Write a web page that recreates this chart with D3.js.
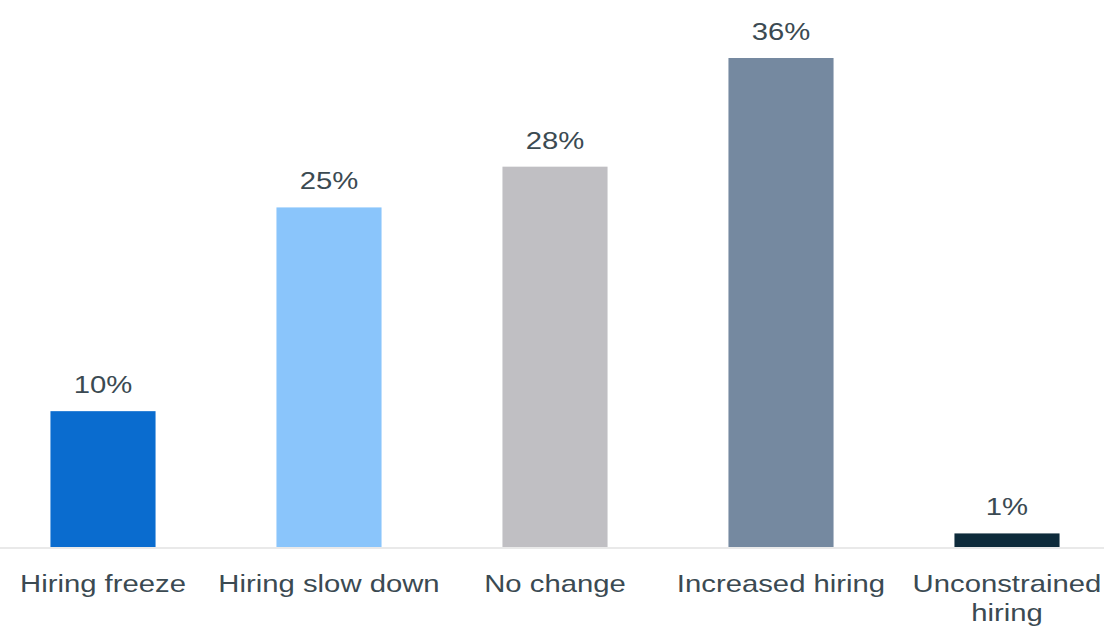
<!DOCTYPE html>
<html>
<head>
<meta charset="utf-8">
<script src="https://cdn.jsdelivr.net/npm/d3@7"></script>
<style>
  html, body { margin: 0; padding: 0; background: #ffffff; }
  svg { display: block; }
  text { font-family: "Liberation Sans", Arial, Helvetica, sans-serif; fill: #3b4a52; }
</style>
</head>
<body>
<svg id="chart" width="1104" height="631"></svg>
<script>
// Hiring outlook: share of respondents per category
const categories = ["Hiring freeze", "Hiring slow down", "No change", "Increased hiring", "Unconstrained hiring"];
const labelLines = [["Hiring freeze"], ["Hiring slow down"], ["No change"], ["Increased hiring"], ["Unconstrained", "hiring"]];
const values = [10, 25, 28, 36, 1];
const colors = ["#0a6ccf", "#8ac5fb", "#c0bfc3", "#7589a0", "#0e2b3b"];

const W = 1104, H = 631;
const baseline = 547;
const svg = d3.select("#chart");

const x = d3.scaleBand()
  .domain(categories)
  .range([-10, 1120])
  .paddingInner(0.535)
  .paddingOuter(0.2675);

const y = d3.scaleLinear()
  .domain([0, 36])
  .range([baseline, 58]);

const stretch = 1.22;

// bars
svg.append("g")
  .selectAll("rect")
  .data(values)
  .join("rect")
  .attr("x", (d, i) => x(categories[i]))
  .attr("width", x.bandwidth())
  .attr("y", d => y(d))
  .attr("height", d => baseline - y(d))
  .attr("fill", (d, i) => colors[i]);

// baseline
svg.append("line")
  .attr("x1", 0).attr("x2", W)
  .attr("y1", baseline + 1).attr("y2", baseline + 1)
  .attr("stroke", "#e2e2e2")
  .attr("stroke-width", 1.5);

// value labels
svg.append("g")
  .selectAll("text")
  .data(values)
  .join("text")
  .attr("text-anchor", "middle")
  .attr("font-size", 24)
  .attr("transform", (d, i) =>
    `translate(${x(categories[i]) + x.bandwidth() / 2},${y(d) - 18}) scale(${stretch},1)`)
  .text(d => d + "%");

// category labels
const cat = svg.append("g")
  .selectAll("text")
  .data(categories)
  .join("text")
  .attr("text-anchor", "middle")
  .attr("font-size", 24)
  .attr("transform", d => `translate(${x(d) + x.bandwidth() / 2},592) scale(${stretch},1)`);

cat.selectAll("tspan")
  .data((d, i) => labelLines[i])
  .join("tspan")
  .attr("x", 0)
  .attr("dy", (d, j) => j === 0 ? 0 : 29)
  .text(d => d);
</script>
</body>
</html>
